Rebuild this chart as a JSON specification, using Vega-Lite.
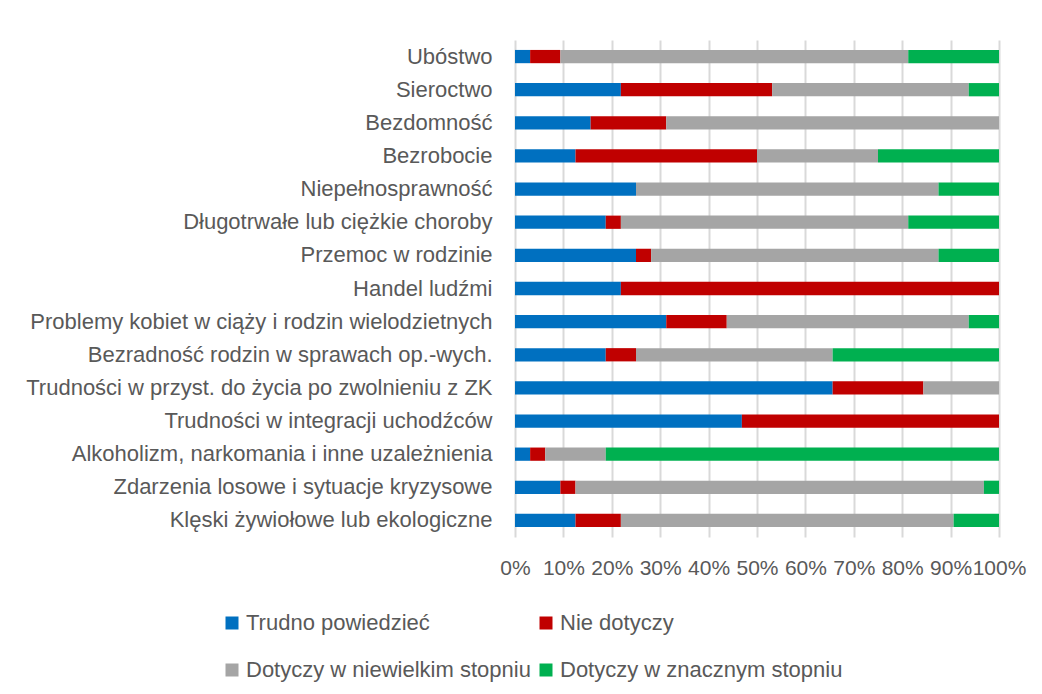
{
  "$schema": "https://vega.github.io/schema/vega-lite/v6.json",
  "autosize": {"type": "none"},
  "padding": {"left": 515, "top": 40, "right": 43, "bottom": 157},
  "width": 484,
  "height": 497,
  "background": "white",
  "data": {
    "values": [
      {"c": "Ubóstwo", "s": "Trudno powiedzieć", "k": 1, "v": 1},
      {"c": "Ubóstwo", "s": "Nie dotyczy", "k": 2, "v": 2},
      {"c": "Ubóstwo", "s": "Dotyczy w niewielkim stopniu", "k": 3, "v": 23},
      {"c": "Ubóstwo", "s": "Dotyczy w znacznym stopniu", "k": 4, "v": 6},
      {"c": "Sieroctwo", "s": "Trudno powiedzieć", "k": 1, "v": 7},
      {"c": "Sieroctwo", "s": "Nie dotyczy", "k": 2, "v": 10},
      {"c": "Sieroctwo", "s": "Dotyczy w niewielkim stopniu", "k": 3, "v": 13},
      {"c": "Sieroctwo", "s": "Dotyczy w znacznym stopniu", "k": 4, "v": 2},
      {"c": "Bezdomność", "s": "Trudno powiedzieć", "k": 1, "v": 5},
      {"c": "Bezdomność", "s": "Nie dotyczy", "k": 2, "v": 5},
      {"c": "Bezdomność", "s": "Dotyczy w niewielkim stopniu", "k": 3, "v": 22},
      {"c": "Bezdomność", "s": "Dotyczy w znacznym stopniu", "k": 4, "v": 0},
      {"c": "Bezrobocie", "s": "Trudno powiedzieć", "k": 1, "v": 4},
      {"c": "Bezrobocie", "s": "Nie dotyczy", "k": 2, "v": 12},
      {"c": "Bezrobocie", "s": "Dotyczy w niewielkim stopniu", "k": 3, "v": 8},
      {"c": "Bezrobocie", "s": "Dotyczy w znacznym stopniu", "k": 4, "v": 8},
      {"c": "Niepełnosprawność", "s": "Trudno powiedzieć", "k": 1, "v": 8},
      {"c": "Niepełnosprawność", "s": "Nie dotyczy", "k": 2, "v": 0},
      {"c": "Niepełnosprawność", "s": "Dotyczy w niewielkim stopniu", "k": 3, "v": 20},
      {"c": "Niepełnosprawność", "s": "Dotyczy w znacznym stopniu", "k": 4, "v": 4},
      {"c": "Długotrwałe lub ciężkie choroby", "s": "Trudno powiedzieć", "k": 1, "v": 6},
      {"c": "Długotrwałe lub ciężkie choroby", "s": "Nie dotyczy", "k": 2, "v": 1},
      {"c": "Długotrwałe lub ciężkie choroby", "s": "Dotyczy w niewielkim stopniu", "k": 3, "v": 19},
      {"c": "Długotrwałe lub ciężkie choroby", "s": "Dotyczy w znacznym stopniu", "k": 4, "v": 6},
      {"c": "Przemoc w rodzinie", "s": "Trudno powiedzieć", "k": 1, "v": 8},
      {"c": "Przemoc w rodzinie", "s": "Nie dotyczy", "k": 2, "v": 1},
      {"c": "Przemoc w rodzinie", "s": "Dotyczy w niewielkim stopniu", "k": 3, "v": 19},
      {"c": "Przemoc w rodzinie", "s": "Dotyczy w znacznym stopniu", "k": 4, "v": 4},
      {"c": "Handel ludźmi", "s": "Trudno powiedzieć", "k": 1, "v": 7},
      {"c": "Handel ludźmi", "s": "Nie dotyczy", "k": 2, "v": 25},
      {"c": "Handel ludźmi", "s": "Dotyczy w niewielkim stopniu", "k": 3, "v": 0},
      {"c": "Handel ludźmi", "s": "Dotyczy w znacznym stopniu", "k": 4, "v": 0},
      {"c": "Problemy kobiet w ciąży i rodzin wielodzietnych", "s": "Trudno powiedzieć", "k": 1, "v": 10},
      {"c": "Problemy kobiet w ciąży i rodzin wielodzietnych", "s": "Nie dotyczy", "k": 2, "v": 4},
      {"c": "Problemy kobiet w ciąży i rodzin wielodzietnych", "s": "Dotyczy w niewielkim stopniu", "k": 3, "v": 16},
      {"c": "Problemy kobiet w ciąży i rodzin wielodzietnych", "s": "Dotyczy w znacznym stopniu", "k": 4, "v": 2},
      {"c": "Bezradność rodzin w sprawach op.-wych.", "s": "Trudno powiedzieć", "k": 1, "v": 6},
      {"c": "Bezradność rodzin w sprawach op.-wych.", "s": "Nie dotyczy", "k": 2, "v": 2},
      {"c": "Bezradność rodzin w sprawach op.-wych.", "s": "Dotyczy w niewielkim stopniu", "k": 3, "v": 13},
      {"c": "Bezradność rodzin w sprawach op.-wych.", "s": "Dotyczy w znacznym stopniu", "k": 4, "v": 11},
      {"c": "Trudności w przyst. do życia po zwolnieniu z ZK", "s": "Trudno powiedzieć", "k": 1, "v": 21},
      {"c": "Trudności w przyst. do życia po zwolnieniu z ZK", "s": "Nie dotyczy", "k": 2, "v": 6},
      {"c": "Trudności w przyst. do życia po zwolnieniu z ZK", "s": "Dotyczy w niewielkim stopniu", "k": 3, "v": 5},
      {"c": "Trudności w przyst. do życia po zwolnieniu z ZK", "s": "Dotyczy w znacznym stopniu", "k": 4, "v": 0},
      {"c": "Trudności w integracji uchodźców", "s": "Trudno powiedzieć", "k": 1, "v": 15},
      {"c": "Trudności w integracji uchodźców", "s": "Nie dotyczy", "k": 2, "v": 17},
      {"c": "Trudności w integracji uchodźców", "s": "Dotyczy w niewielkim stopniu", "k": 3, "v": 0},
      {"c": "Trudności w integracji uchodźców", "s": "Dotyczy w znacznym stopniu", "k": 4, "v": 0},
      {"c": "Alkoholizm, narkomania i inne uzależnienia", "s": "Trudno powiedzieć", "k": 1, "v": 1},
      {"c": "Alkoholizm, narkomania i inne uzależnienia", "s": "Nie dotyczy", "k": 2, "v": 1},
      {"c": "Alkoholizm, narkomania i inne uzależnienia", "s": "Dotyczy w niewielkim stopniu", "k": 3, "v": 4},
      {"c": "Alkoholizm, narkomania i inne uzależnienia", "s": "Dotyczy w znacznym stopniu", "k": 4, "v": 26},
      {"c": "Zdarzenia losowe i sytuacje kryzysowe", "s": "Trudno powiedzieć", "k": 1, "v": 3},
      {"c": "Zdarzenia losowe i sytuacje kryzysowe", "s": "Nie dotyczy", "k": 2, "v": 1},
      {"c": "Zdarzenia losowe i sytuacje kryzysowe", "s": "Dotyczy w niewielkim stopniu", "k": 3, "v": 27},
      {"c": "Zdarzenia losowe i sytuacje kryzysowe", "s": "Dotyczy w znacznym stopniu", "k": 4, "v": 1},
      {"c": "Klęski żywiołowe lub ekologiczne", "s": "Trudno powiedzieć", "k": 1, "v": 4},
      {"c": "Klęski żywiołowe lub ekologiczne", "s": "Nie dotyczy", "k": 2, "v": 3},
      {"c": "Klęski żywiołowe lub ekologiczne", "s": "Dotyczy w niewielkim stopniu", "k": 3, "v": 22},
      {"c": "Klęski żywiołowe lub ekologiczne", "s": "Dotyczy w znacznym stopniu", "k": 4, "v": 3}
    ]
  },
  "mark": {"type": "bar", "strokeWidth": 0},
  "encoding": {
    "y": {
      "field": "c",
      "type": "nominal",
      "sort": null,
      "scale": {"paddingInner": 0.6, "paddingOuter": 0.3},
      "axis": {
        "title": null,
        "domain": false,
        "ticks": false,
        "tickSize": 0,
        "labelPadding": 23,
        "labelFont": "Liberation Sans",
        "labelFontSize": 22,
        "labelColor": "#595959",
        "labelLimit": 600
      }
    },
    "x": {
      "field": "v",
      "type": "quantitative",
      "stack": "normalize",
      "scale": {"domain": [0, 1], "nice": false},
      "axis": {
        "title": null,
        "values": [0, 0.1, 0.2, 0.3, 0.4, 0.5, 0.6, 0.7, 0.8, 0.9, 1],
        "format": ".0%",
        "domain": false,
        "ticks": false,
        "tickSize": 0,
        "grid": true,
        "gridColor": "#d9d9d9",
        "gridWidth": 2,
        "labelPadding": 20,
        "labelFont": "Liberation Sans",
        "labelFontSize": 21,
        "labelColor": "#595959",
        "labelFlush": false,
        "labelOverlap": false
      }
    },
    "color": {
      "field": "s",
      "type": "nominal",
      "scale": {
        "domain": ["Trudno powiedzieć", "Nie dotyczy", "Dotyczy w niewielkim stopniu", "Dotyczy w znacznym stopniu"],
        "range": ["#0070c0", "#c00000", "#a5a5a5", "#00b050"]
      },
      "legend": {
        "title": null,
        "orient": "none",
        "direction": "horizontal",
        "legendX": -294,
        "legendY": 572,
        "columns": 2,
        "columnPadding": 4,
        "rowPadding": 25,
        "padding": 0,
        "symbolType": "square",
        "symbolSize": 169,
        "symbolStrokeWidth": 0,
        "labelOffset": 3,
        "labelFont": "Liberation Sans",
        "labelFontSize": 22,
        "labelColor": "#595959",
        "labelLimit": 600
      }
    },
    "order": {"field": "k", "type": "quantitative"}
  },
  "config": {"view": {"stroke": null}}
}
